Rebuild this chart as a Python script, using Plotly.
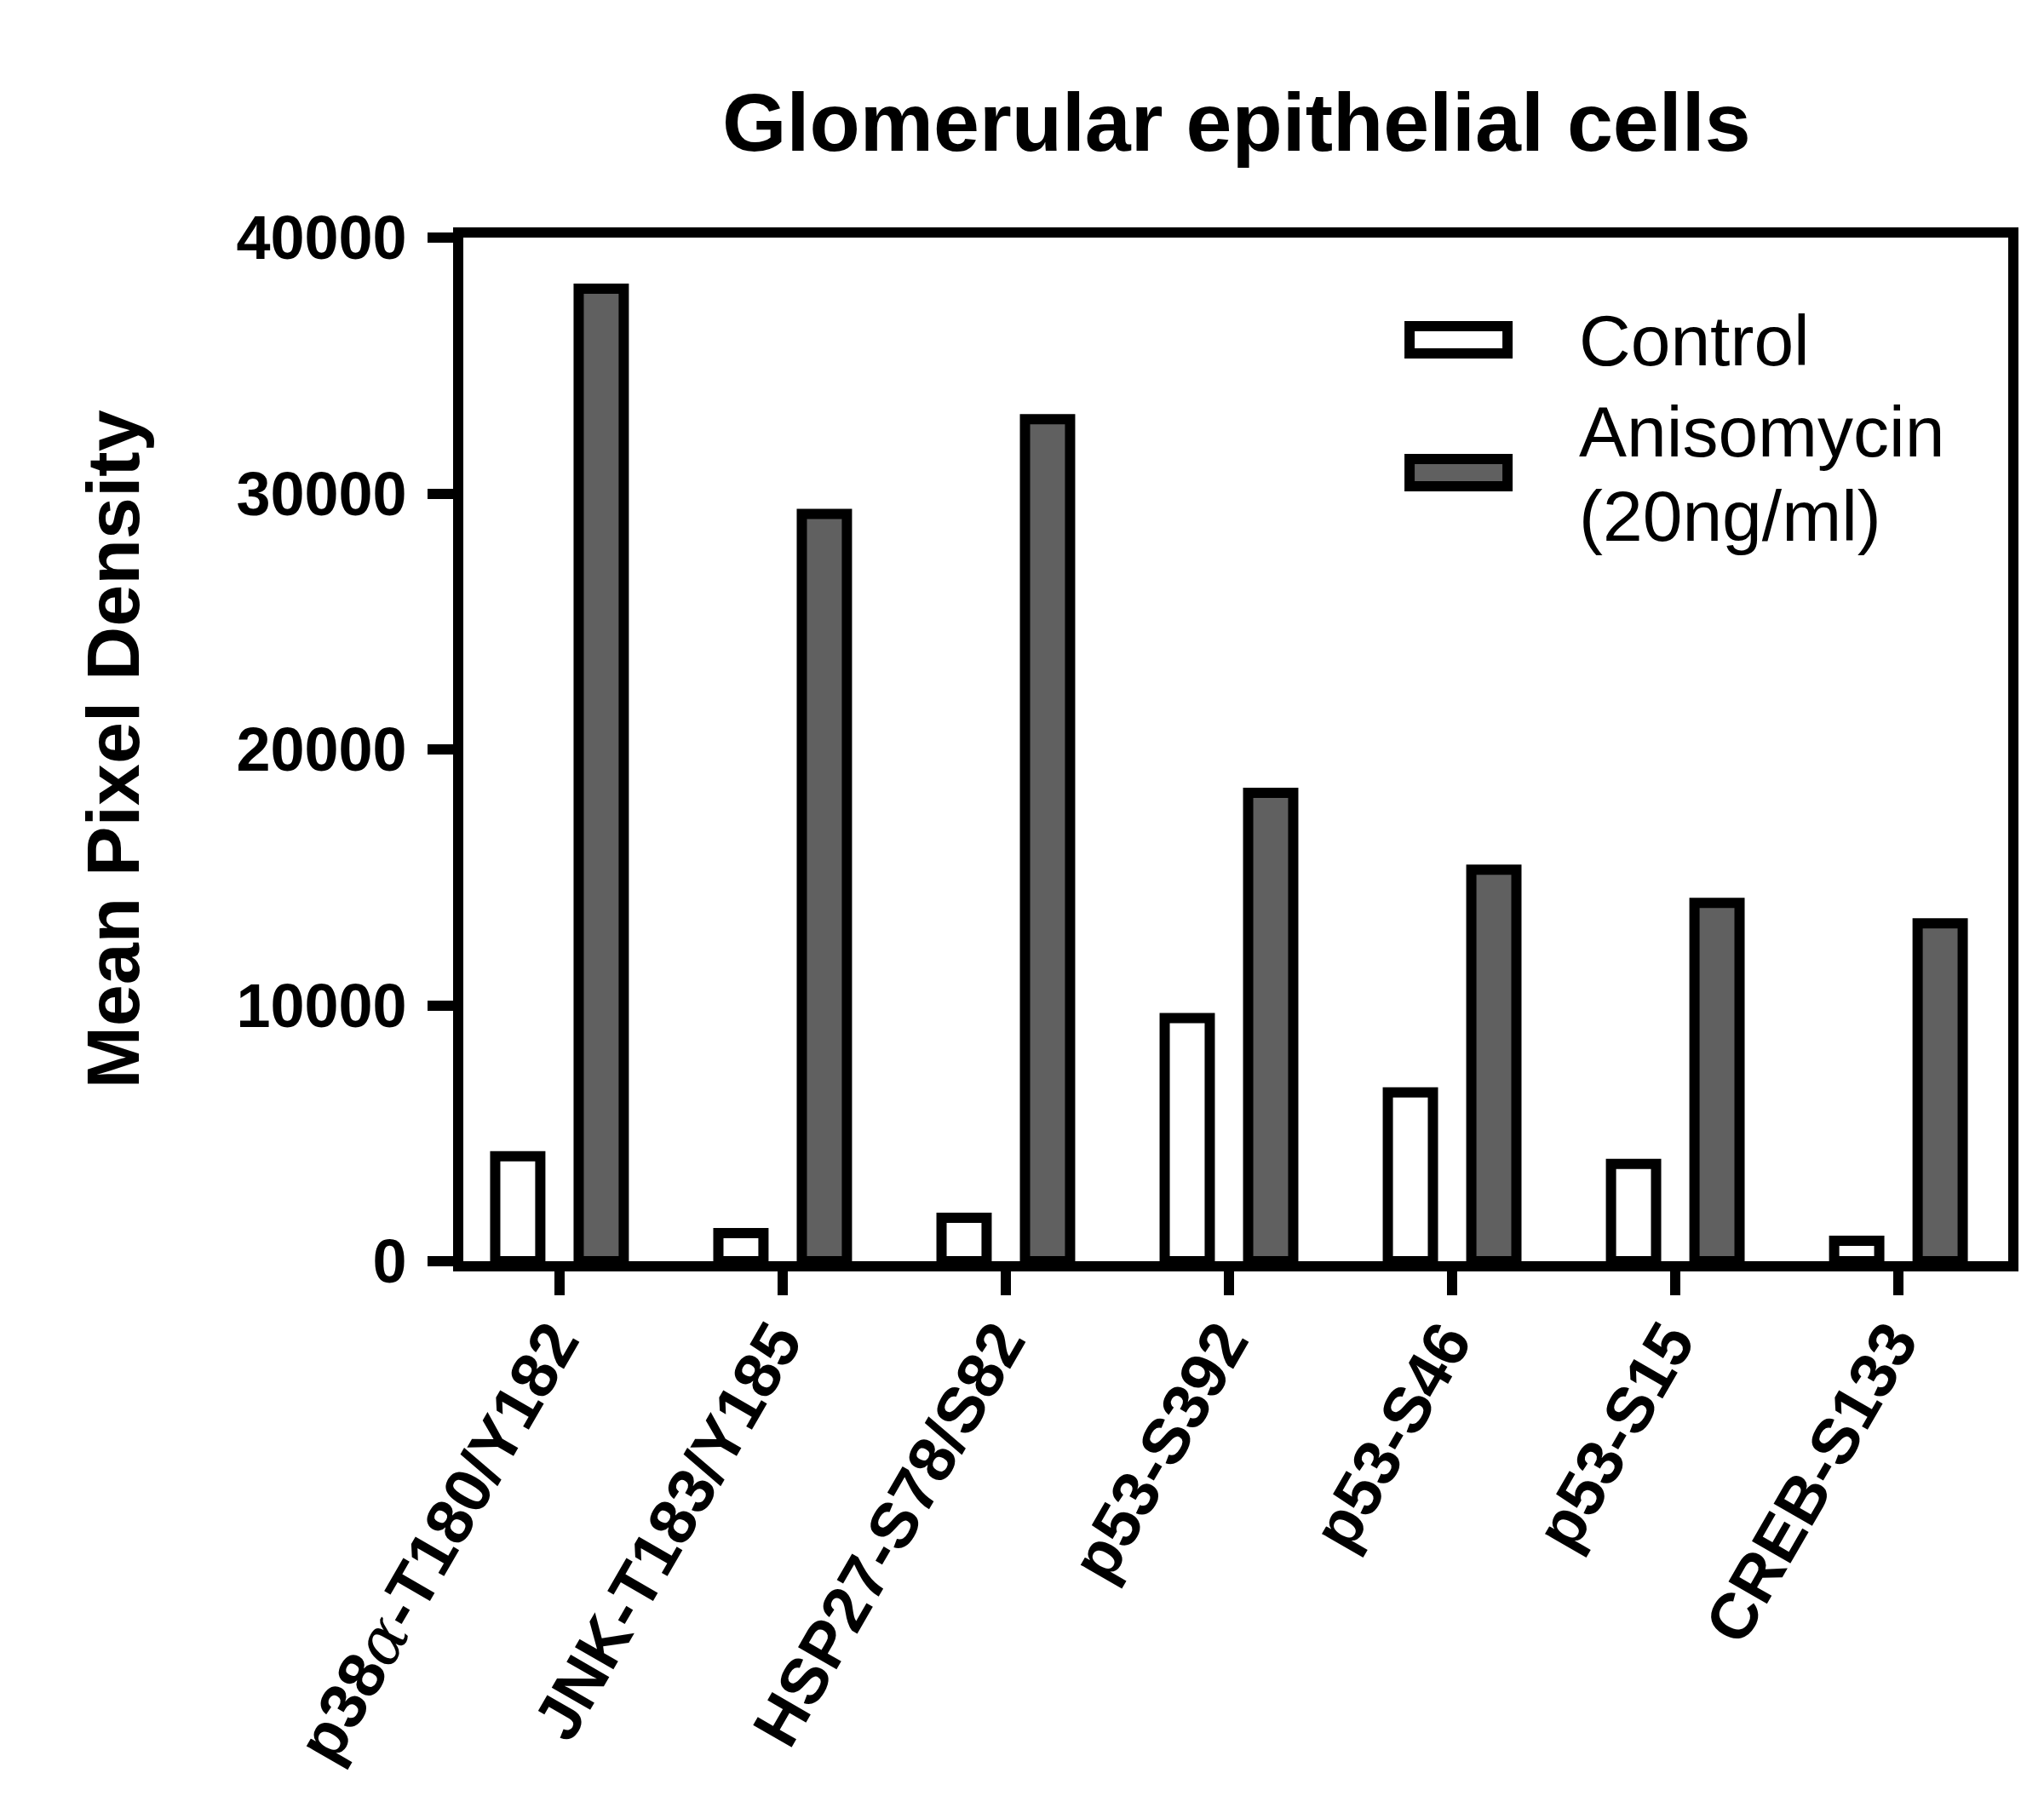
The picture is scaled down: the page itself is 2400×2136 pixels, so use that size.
import plotly.graph_objects as go

# values
categories = [
    "p38<span style='font-family:DejaVu Serif;font-weight:normal'><i>α</i></span>-T180/Y182",
    "JNK-T183/Y185",
    "HSP27-S78/S82",
    "p53-S392",
    "p53-S46",
    "p53-S15",
    "CREB-S133",
]
control = [4100, 1100, 1700, 9500, 6600, 3800, 800]
anisomycin = [38000, 29200, 32900, 18300, 15300, 14000, 13200]
y_ticks = [0, 10000, 20000, 30000, 40000]

FONT = "Liberation Sans, Arial, Helvetica, sans-serif"
LW = 12
GREY = "#606060"

fig = go.Figure()
fig.add_bar(
    x=categories, y=control, name="Control",
    width=0.202, offset=-0.288,
    marker=dict(color="white", line=dict(color="black", width=LW)),
)
fig.add_bar(
    x=categories, y=anisomycin, name="Anisomycin (20ng/ml)",
    width=0.202, offset=0.086,
    marker=dict(color=GREY, line=dict(color="black", width=LW)),
)

fig.update_layout(
    width=2400, height=2136,
    margin=dict(l=536, r=50, t=271, b=663, pad=0),
    paper_bgcolor="white", plot_bgcolor="white",
    barmode="overlay",
    showlegend=False,
    font=dict(family=FONT, color="black"),
    title=dict(
        text="<b>Glomerular epithelial cells</b>",
        font=dict(size=97, family=FONT, color="black"),
        x=0.6016, xanchor="center", xref="container",
        y=1 - 135 / 2136, yanchor="middle", yref="container",
    ),
)

fig.update_xaxes(
    type="category",
    range=[-0.431, 6.492],
    showline=True, linewidth=LW, linecolor="black", mirror=True,
    ticks="outside", ticklen=28, tickwidth=LW, tickcolor="black",
    tickangle=-60,
    ticklabelstandoff=-20, ticklabelshift=-8,
    tickfont=dict(size=76, family=FONT, color="black", weight="bold"),
    showgrid=False, zeroline=False,
)
fig.update_yaxes(
    range=[0, 40000],
    tickvals=y_ticks, ticktext=[f"<b>{v}</b>" for v in y_ticks],
    showline=True, linewidth=LW, linecolor="black", mirror=True,
    ticks="outside", ticklen=30, tickwidth=LW, tickcolor="black",
    ticklabelstandoff=10,
    tickfont=dict(size=72, family=FONT, color="black"),
    showgrid=False, zeroline=False,
    title=dict(
        text="<b>Mean Pixel Density</b>",
        font=dict(size=88, family=FONT, color="black"),
        standoff=90,
    ),
)

# legend drawn as shapes + text to match the wide swatches
swatches = [("white", 0.8869, 0.9135), (GREY, 0.7571, 0.7837)]
for color, y0, y1 in swatches:
    fig.add_shape(
        type="rect", xref="paper", yref="paper",
        x0=0.6125, x1=0.6759, y0=y0, y1=y1,
        fillcolor=color, line=dict(color="black", width=LW),
    )
legend_text = [("Control", 0.8993), ("Anisomycin", 0.8103), ("(20ng/ml)", 0.728)]
for txt, yy in legend_text:
    fig.add_annotation(
        text=txt, xref="paper", yref="paper", x=0.721, y=yy,
        xanchor="left", yanchor="middle", showarrow=False,
        font=dict(size=84, family=FONT, color="black"),
    )

fig.write_html("out.html")
